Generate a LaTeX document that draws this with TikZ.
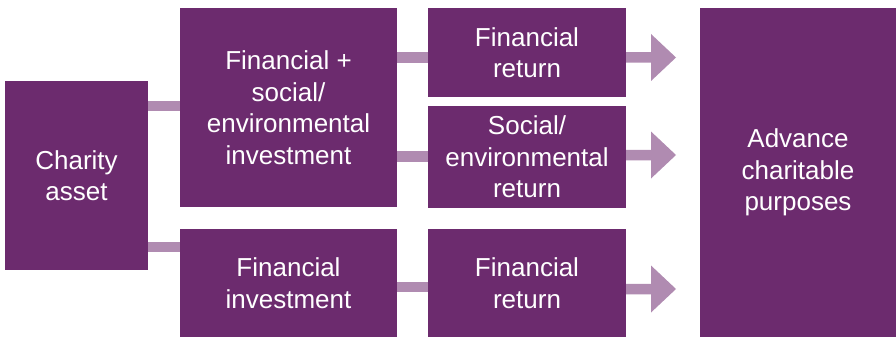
\documentclass[tikz,border=0pt]{standalone}
\usepackage{fontspec}
\setmainfont{Liberation Sans}
\usetikzlibrary{calc}
\definecolor{boxpurple}{RGB}{108,43,110}
\definecolor{linkpurple}{RGB}{176,139,177}
\tikzset{
  box/.style={fill=boxpurple, draw=none, inner sep=0pt, align=center,
    text=white, font=\fontsize{26}{31.5}\selectfont},
  bar/.style={draw=linkpurple, line width=10.5pt},
  blockarrow/.style={fill=linkpurple, draw=none}
}
\begin{document}
\begin{tikzpicture}[x=1pt,y=1pt]
\useasboundingbox (0,0) rectangle (896,338);
\node[box, minimum width=143pt, minimum height=189pt] (ca) at (76.5,162.5) {Charity\\asset};
\node[box, minimum width=217pt, minimum height=199pt] (fsi) at (288.5,230.5) {Financial +\\social/\\environmental\\investment};
\node[box, minimum width=217pt, minimum height=108pt] (fi) at (288.5,55) {Financial\\investment};
\node[box, minimum width=198pt, minimum height=89pt] (fr1) at (527,285.5) {Financial\\return};
\node[box, minimum width=198pt, minimum height=102pt] (ser) at (527,181) {Social/\\environmental\\return};
\node[box, minimum width=198pt, minimum height=108pt] (fr2) at (527,55) {Financial\\return};
\node[box, minimum width=196pt, minimum height=329pt] (acp) at (798,165.5) {Advance\\charitable\\purposes};

% connectors
\draw[bar] (ca.east |- 0,232) -- (fsi.west |- 0,232);
\draw[bar] (ca.east |- 0,91) -- (fi.west |- 0,91);
\draw[bar] (fsi.east |- 0,280.5) -- (fr1.west |- 0,280.5);
\draw[bar] (fsi.east |- 0,181.5) -- (ser.west |- 0,181.5);
\draw[bar] (fi.east |- 0,51) -- (fr2.west |- 0,51);

% block arrows
\coordinate (t1) at (676,280.5);
\coordinate (t2) at (676,183);
\coordinate (t3) at (676,49);
\foreach \b/\t in {fr1/t1, ser/t2, fr2/t3}{
  \fill[blockarrow] ($(\b.east |- \t)+(0,5.25)$) -- ($(\t)+(-25,5.25)$) -- ($(\t)+(-25,23.5)$) -- (\t)
    -- ($(\t)+(-25,-23.5)$) -- ($(\t)+(-25,-5.25)$) -- ($(\b.east |- \t)+(0,-5.25)$) -- cycle;
}
\end{tikzpicture}
\end{document}
